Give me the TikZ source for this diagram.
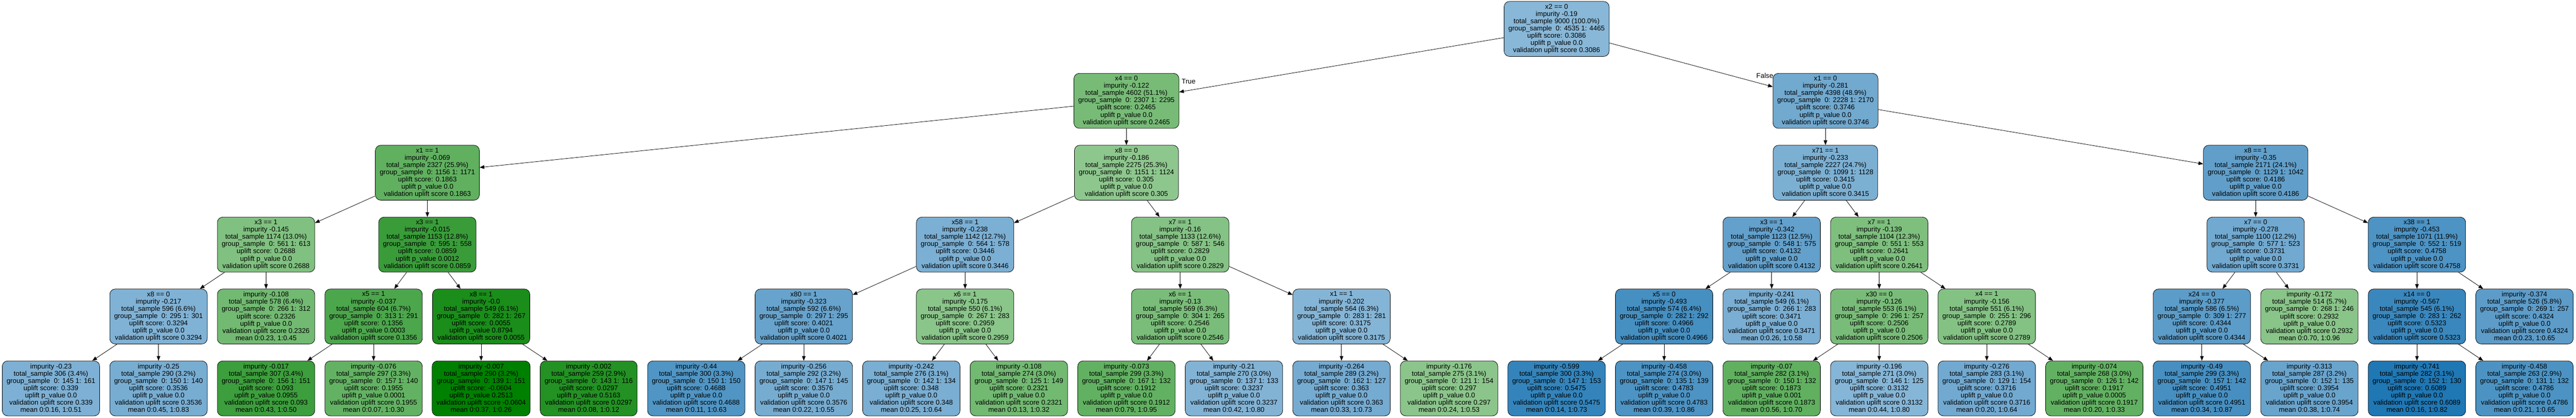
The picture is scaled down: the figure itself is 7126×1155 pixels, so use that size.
\documentclass[tikz,border=0pt]{standalone}
\usepackage{fontspec}
\setmainfont{Liberation Sans}
\usetikzlibrary{arrows.meta}
\definecolor{ublue}{HTML}{1F77B4}
\definecolor{ugreen}{HTML}{008000}
\tikzset{
  tn/.style={draw=black, line width=1.1pt, rounded corners=15pt, align=center,
    minimum width=268pt, minimum height=152pt, inner xsep=12pt, inner ysep=4pt,
    font={\fontsize{19}{20.1}\selectfont}},
  edgearrow/.style={draw=black, line width=1.1pt, -{Triangle[length=13pt,width=10pt]}},
  lbl/.style={font={\fontsize{19}{20.1}\selectfont}, inner sep=0pt}
}
\newcommand\tnode[5]{%
  \pgfmathparse{(#4>0.307)?1:0}%
  \ifdim\pgfmathresult pt>0.5pt\relax
    \pgfmathsetmacro\wpct{47*(0.6089-(#4))/0.3019}%
    \edef\ncol{white!\wpct!ublue}%
  \else
    \pgfmathsetmacro\wpct{56*((#4)+0.0604)/0.3674}%
    \edef\ncol{white!\wpct!ugreen}%
  \fi
  \node[tn, fill=\ncol] (#1) at ({141+297.5*#2},{80+198.8*#3}) {#5};%
}
% internal: name col row score split imp total groups pval
\newcommand\inode[9]{\tnode{#1}{#2}{#3}{#4}{#5\\impurity #6\\total\_sample #7\\group\_sample\ \ #8\\uplift score: #4\\uplift p\_value #9\\validation uplift score #4}}
% leaf: name col row score imp total groups pval mean
\newcommand\lnode[9]{\tnode{#1}{#2}{#3}{#4}{impurity #5\\total\_sample #6\\group\_sample\ \ #7\\uplift score: #4\\uplift p\_value #8\\validation uplift score #4\\mean #9}}
\begin{document}
\begin{tikzpicture}[x=1pt,y=-1pt]
\useasboundingbox (0,0) rectangle (7126,1155);
\fill[white] (0,0) rectangle (7126,1155);
% row 0
\inode{r}{14}{0}{0.3086}{x2 == 0}{-0.19}{9000 (100.0\%)}{0: 4535 1: 4465}{0.0}
% row 1
\inode{a}{10}{1}{0.2465}{x4 == 0}{-0.122}{4602 (51.1\%)}{0: 2307 1: 2295}{0.0}
\inode{b}{16.5}{1}{0.3746}{x1 == 0}{-0.281}{4398 (48.9\%)}{0: 2228 1: 2170}{0.0}
% row 2
\inode{aa}{3.5}{2}{0.1863}{x1 == 1}{-0.069}{2327 (25.9\%)}{0: 1156 1: 1171}{0.0}
\inode{ab}{10}{2}{0.305}{x8 == 0}{-0.186}{2275 (25.3\%)}{0: 1151 1: 1124}{0.0}
\inode{ba}{16.5}{2}{0.3415}{x71 == 1}{-0.233}{2227 (24.7\%)}{0: 1099 1: 1128}{0.0}
\inode{bb}{20.5}{2}{0.4186}{x8 == 1}{-0.35}{2171 (24.1\%)}{0: 1129 1: 1042}{0.0}
% row 3
\inode{aaa}{2}{3}{0.2688}{x3 == 1}{-0.145}{1174 (13.0\%)}{0: 561 1: 613}{0.0}
\inode{aab}{3.5}{3}{0.0859}{x3 == 1}{-0.015}{1153 (12.8\%)}{0: 595 1: 558}{0.0012}
\inode{aba}{8.5}{3}{0.3446}{x58 == 1}{-0.238}{1142 (12.7\%)}{0: 564 1: 578}{0.0}
\inode{abb}{10.5}{3}{0.2829}{x7 == 1}{-0.16}{1133 (12.6\%)}{0: 587 1: 546}{0.0}
\inode{baa}{16}{3}{0.4132}{x3 == 1}{-0.342}{1123 (12.5\%)}{0: 548 1: 575}{0.0}
\inode{bab}{17}{3}{0.2641}{x7 == 1}{-0.139}{1104 (12.3\%)}{0: 551 1: 553}{0.0}
\inode{bba}{20.5}{3}{0.3731}{x7 == 0}{-0.278}{1100 (12.2\%)}{0: 577 1: 523}{0.0}
\inode{bbb}{22}{3}{0.4758}{x38 == 1}{-0.453}{1071 (11.9\%)}{0: 552 1: 519}{0.0}
% row 4
\inode{c1}{1}{4}{0.3294}{x8 == 0}{-0.217}{596 (6.6\%)}{0: 295 1: 301}{0.0}
\lnode{c2}{2}{4}{0.2326}{-0.108}{578 (6.4\%)}{0: 266 1: 312}{0.0}{0:0.23, 1:0.45}
\inode{c3}{3}{4}{0.1356}{x5 == 1}{-0.037}{604 (6.7\%)}{0: 313 1: 291}{0.0003}
\inode{c4}{4}{4}{0.0055}{x8 == 1}{-0.0}{549 (6.1\%)}{0: 282 1: 267}{0.8794}
\inode{c7}{7}{4}{0.4021}{x80 == 1}{-0.323}{592 (6.6\%)}{0: 297 1: 295}{0.0}
\inode{c8}{8.5}{4}{0.2959}{x6 == 1}{-0.175}{550 (6.1\%)}{0: 267 1: 283}{0.0}
\inode{c10}{10.5}{4}{0.2546}{x6 == 1}{-0.13}{569 (6.3\%)}{0: 304 1: 265}{0.0}
\inode{c12}{12}{4}{0.3175}{x1 == 1}{-0.202}{564 (6.3\%)}{0: 283 1: 281}{0.0}
\inode{c15}{15}{4}{0.4966}{x5 == 0}{-0.493}{574 (6.4\%)}{0: 282 1: 292}{0.0}
\lnode{c16}{16}{4}{0.3471}{-0.241}{549 (6.1\%)}{0: 266 1: 283}{0.0}{0:0.26, 1:0.58}
\inode{c17}{17}{4}{0.2506}{x30 == 0}{-0.126}{553 (6.1\%)}{0: 296 1: 257}{0.0}
\inode{c18}{18}{4}{0.2789}{x4 == 1}{-0.156}{551 (6.1\%)}{0: 255 1: 296}{0.0}
\inode{c20}{20}{4}{0.4344}{x24 == 0}{-0.377}{586 (6.5\%)}{0: 309 1: 277}{0.0}
\lnode{c21}{21}{4}{0.2932}{-0.172}{514 (5.7\%)}{0: 268 1: 246}{0.0}{0:0.70, 1:0.96}
\inode{c22}{22}{4}{0.5323}{x14 == 0}{-0.567}{545 (6.1\%)}{0: 283 1: 262}{0.0}
\lnode{c23}{23}{4}{0.4324}{-0.374}{526 (5.8\%)}{0: 269 1: 257}{0.0}{0:0.23, 1:0.65}
% row 5
\lnode{d0}{0}{5}{0.339}{-0.23}{306 (3.4\%)}{0: 145 1: 161}{0.0}{0:0.16, 1:0.51}
\lnode{d1}{1}{5}{0.3536}{-0.25}{290 (3.2\%)}{0: 150 1: 140}{0.0}{0:0.45, 1:0.83}
\lnode{d2}{2}{5}{0.093}{-0.017}{307 (3.4\%)}{0: 156 1: 151}{0.0955}{0:0.43, 1:0.50}
\lnode{d3}{3}{5}{0.1955}{-0.076}{297 (3.3\%)}{0: 157 1: 140}{0.0001}{0:0.07, 1:0.30}
\lnode{d4}{4}{5}{-0.0604}{-0.007}{290 (3.2\%)}{0: 139 1: 151}{0.2513}{0:0.37, 1:0.26}
\lnode{d5}{5}{5}{0.0297}{-0.002}{259 (2.9\%)}{0: 143 1: 116}{0.5163}{0:0.08, 1:0.12}
\lnode{d6}{6}{5}{0.4688}{-0.44}{300 (3.3\%)}{0: 150 1: 150}{0.0}{0:0.11, 1:0.63}
\lnode{d7}{7}{5}{0.3576}{-0.256}{292 (3.2\%)}{0: 147 1: 145}{0.0}{0:0.22, 1:0.55}
\lnode{d8}{8}{5}{0.348}{-0.242}{276 (3.1\%)}{0: 142 1: 134}{0.0}{0:0.25, 1:0.64}
\lnode{d9}{9}{5}{0.2321}{-0.108}{274 (3.0\%)}{0: 125 1: 149}{0.0}{0:0.13, 1:0.32}
\lnode{d10}{10}{5}{0.1912}{-0.073}{299 (3.3\%)}{0: 167 1: 132}{0.0}{0:0.79, 1:0.95}
\lnode{d11}{11}{5}{0.3237}{-0.21}{270 (3.0\%)}{0: 137 1: 133}{0.0}{0:0.42, 1:0.80}
\lnode{d12}{12}{5}{0.363}{-0.264}{289 (3.2\%)}{0: 162 1: 127}{0.0}{0:0.33, 1:0.73}
\lnode{d13}{13}{5}{0.297}{-0.176}{275 (3.1\%)}{0: 121 1: 154}{0.0}{0:0.24, 1:0.53}
\lnode{d14}{14}{5}{0.5475}{-0.599}{300 (3.3\%)}{0: 147 1: 153}{0.0}{0:0.14, 1:0.73}
\lnode{d15}{15}{5}{0.4783}{-0.458}{274 (3.0\%)}{0: 135 1: 139}{0.0}{0:0.39, 1:0.86}
\lnode{d16}{16}{5}{0.1873}{-0.07}{282 (3.1\%)}{0: 150 1: 132}{0.001}{0:0.56, 1:0.70}
\lnode{d17}{17}{5}{0.3132}{-0.196}{271 (3.0\%)}{0: 146 1: 125}{0.0}{0:0.44, 1:0.80}
\lnode{d18}{18}{5}{0.3716}{-0.276}{283 (3.1\%)}{0: 129 1: 154}{0.0}{0:0.20, 1:0.64}
\lnode{d19}{19}{5}{0.1917}{-0.074}{268 (3.0\%)}{0: 126 1: 142}{0.0005}{0:0.20, 1:0.33}
\lnode{d20}{20}{5}{0.4951}{-0.49}{299 (3.3\%)}{0: 157 1: 142}{0.0}{0:0.34, 1:0.87}
\lnode{d21}{21}{5}{0.3954}{-0.313}{287 (3.2\%)}{0: 152 1: 135}{0.0}{0:0.38, 1:0.74}
\lnode{d22}{22}{5}{0.6089}{-0.741}{282 (3.1\%)}{0: 152 1: 130}{0.0}{0:0.16, 1:0.82}
\lnode{d23}{23}{5}{0.4786}{-0.458}{263 (2.9\%)}{0: 131 1: 132}{0.0}{0:0.21, 1:0.65}
% edges
\foreach \p/\c in {r/a, r/b, a/aa, a/ab, b/ba, b/bb,
  aa/aaa, aa/aab, ab/aba, ab/abb, ba/baa, ba/bab, bb/bba, bb/bbb,
  aaa/c1, aaa/c2, aab/c3, aab/c4, aba/c7, aba/c8, abb/c10, abb/c12,
  baa/c15, baa/c16, bab/c17, bab/c18, bba/c20, bba/c21, bbb/c22, bbb/c23,
  c1/d0, c1/d1, c3/d2, c3/d3, c4/d4, c4/d5, c7/d6, c7/d7, c8/d8, c8/d9,
  c10/d10, c10/d11, c12/d12, c12/d13, c15/d14, c15/d15, c17/d16, c17/d17,
  c18/d18, c18/d19, c20/d20, c20/d21, c22/d22, c22/d23}
  \draw[edgearrow] (\p) -- (\c);
\node[lbl] (truelbl) at (3288,225) {True};
\node[lbl] (falselbl) at (4882,209) {False};
\end{tikzpicture}
\end{document}
